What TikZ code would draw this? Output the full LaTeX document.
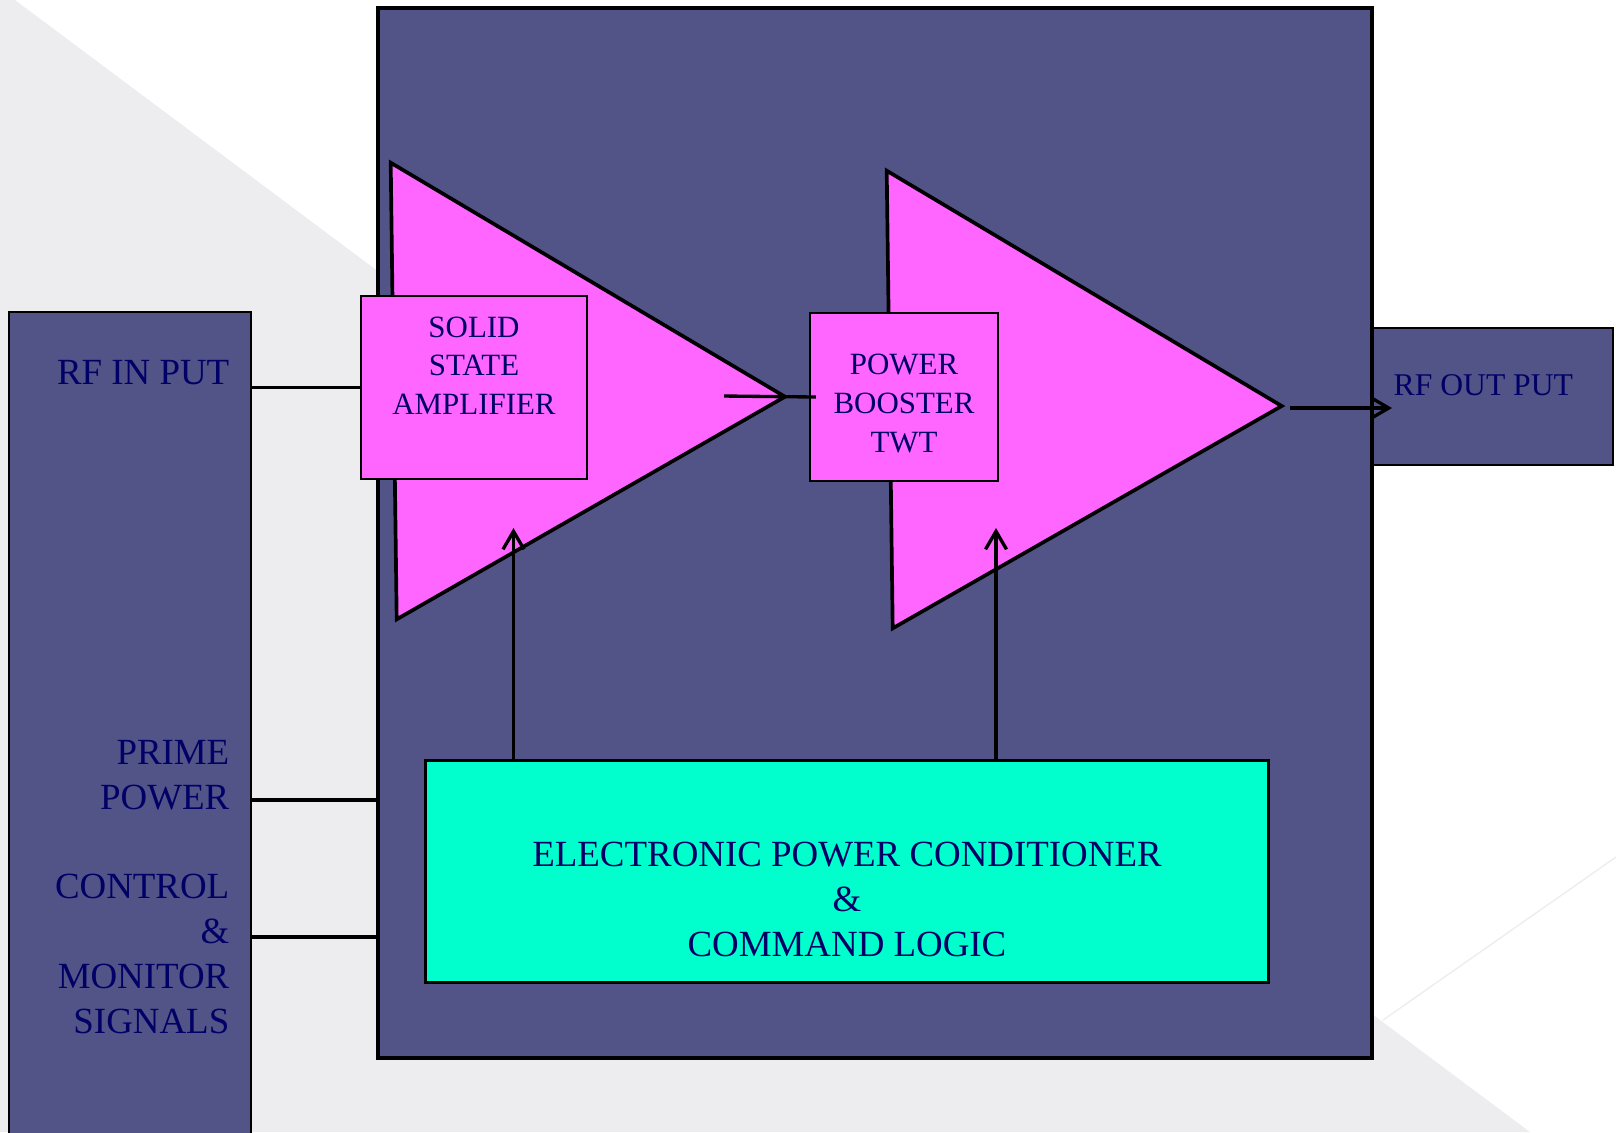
\documentclass[tikz,border=0pt]{standalone}
\usepackage{fontspec}
\setmainfont{Liberation Serif}
\usepackage{xcolor}
\usepackage{tikz}
\usetikzlibrary{arrows.meta,positioning}

\definecolor{twtblue}{HTML}{525488}
\definecolor{ampmagenta}{HTML}{FF66FF}
\definecolor{epcgreen}{HTML}{00FFCC}
\definecolor{labelnavy}{HTML}{000066}
\definecolor{bggrey}{HTML}{EDEDEF}

\newcommand{\sidefont}{\fontsize{10.5}{12.8}\selectfont}
\newcommand{\ampfont}{\fontsize{8.8}{11}\selectfont}
\newcommand{\outfont}{\fontsize{9}{11}\selectfont}

\begin{document}
\begin{tikzpicture}[
      x=0.1mm, y=-0.1mm,
      block/.style={draw, line width=0.7pt, inner sep=0pt},
      txt/.style={text=labelnavy, inner sep=0pt, align=center},
      amp/.style={draw, fill=ampmagenta, line width=1.05pt},
      wire/.style={line width=0.95pt},
      arr/.style={-{Straight Barb[length=1.8mm,width=2.1mm]}, line width=0.95pt},
    ]
    \useasboundingbox (0,0) rectangle (1616,1132);
    \clip (0,0) rectangle (1616,1132);
    % backdrop
    \fill[bggrey] (0,0) -- (15,0) -- (1530,1132) -- (0,1132) -- cycle;
    \draw[white!93!black, line width=0.4pt] (1383,1020) -- (1616,857);

    % panels
    \node[block, fill=twtblue, minimum width=24.2mm, minimum height=83.8mm] (src) at (130,731) {};
    \node[block, fill=twtblue, minimum width=24.1mm, minimum height=13.7mm] (rfout) at (1492.5,396.5) {};
    \node[block, fill=twtblue, line width=1.2pt, minimum width=99.4mm, minimum height=105mm] (twta) at (874.7,533) {};

    % amplifier symbols
    \draw[amp] (390.7,162.7) -- (785,396.7) -- (396.7,619.3) -- cycle;
    \draw[amp] (886.7,170.7) -- (1281.7,406) -- (892.7,628.3) -- cycle;

    \node[block, fill=ampmagenta, minimum width=22.6mm, minimum height=18.3mm] (ssa) at (474,387.5) {};
    \node[block, fill=ampmagenta, minimum width=18.8mm, minimum height=16.8mm] (pbt) at (904,397) {};
    \node[block, fill=epcgreen, line width=1pt, minimum width=84.3mm, minimum height=22.2mm] (epc) at (847.2,871.7) {};

    % labels
    \node[txt, font=\sidefont, anchor=base east] (rfinlbl) at (230,384) {RF IN PUT};
    \node[txt, font=\sidefont, align=right, anchor=east] (primelbl) at (230,775) {PRIME\\POWER};
    \node[txt, font=\sidefont, align=right, anchor=east] (ctrllbl) at (230,953.8) {CONTROL\\\&\\MONITOR\\SIGNALS};
    \node[txt, font=\ampfont] (ssalbl) at (474,365.4) {SOLID\\STATE\\AMPLIFIER};
    \node[txt, font=\ampfont] (pbtlbl) at (904,403.4) {POWER\\BOOSTER\\TWT};
    \node[txt, font=\sidefont] (epclbl) at (847,899.5) {ELECTRONIC POWER CONDITIONER\\\&\\COMMAND LOGIC};
    \node[txt, font=\outfont, anchor=base west] (rfoutlbl) at (1393,395) {RF OUT PUT};

    % connectors
    \coordinate (ssatip) at (724,396);
    \coordinate (pbttip) at (1290,408);
    \coordinate (outend) at (1392,408);
    \coordinate (ssapwr) at (513.5,528);
    \coordinate (pbtpwr) at (996,528);
    \coordinate (primein) at (src.east |- 0,800);
    \coordinate (ctrlin) at (src.east |- 0,937);
    \draw[wire] (src.east |- ssa.west) -- (ssa.west);
    \draw[wire] (ssatip) -- ([xshift=0.7mm]pbt.west);
    \draw[arr] (pbttip) -- (outend);
    \draw[arr] (epc.north -| ssapwr) -- (ssapwr);
    \draw[arr] (epc.north -| pbtpwr) -- (pbtpwr);
    \draw[wire] (primein) -- (primein -| twta.west);
    \draw[wire] (ctrlin) -- (ctrlin -| twta.west);
  \end{tikzpicture}
\end{document}
